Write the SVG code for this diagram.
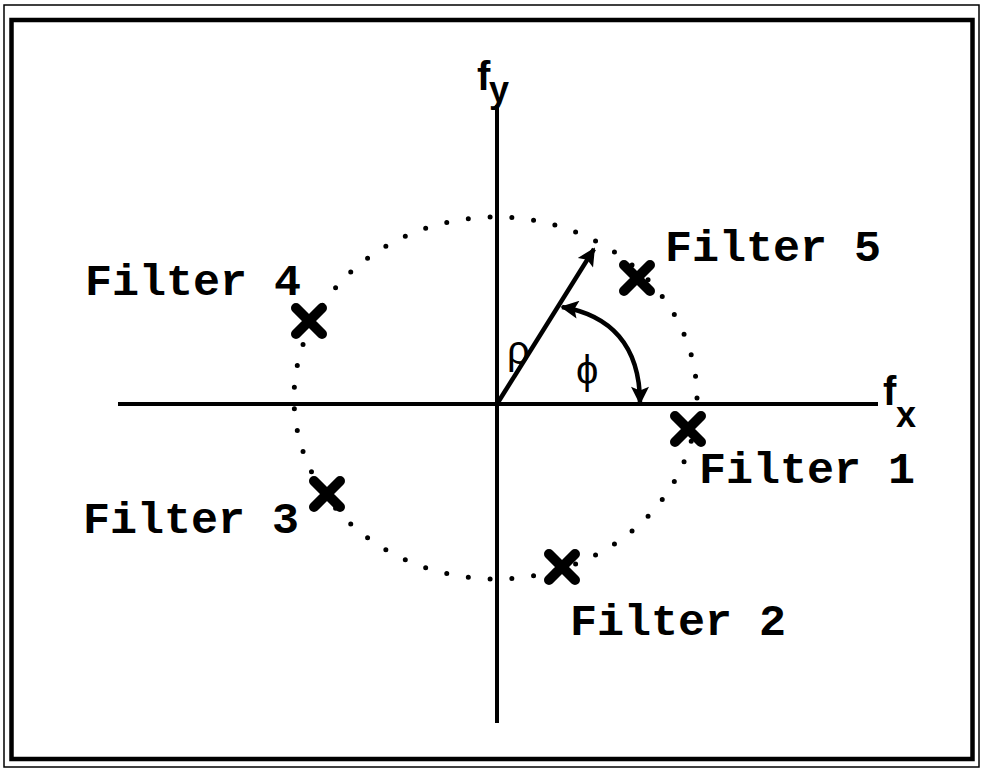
<svg xmlns="http://www.w3.org/2000/svg" width="982" height="772" viewBox="0 0 982 772">
<defs>
<marker id="ah" viewBox="0 0 10 10" refX="9" refY="5" markerWidth="26" markerHeight="18" markerUnits="userSpaceOnUse" orient="auto-start-reverse">
<path d="M0,0 L10,5 L0,10 L2,5 z" fill="#000"/>
</marker>
<g id="xmark">
<path d="M-13,-13 L13,13 M13,-13 L-13,13" stroke="#000" stroke-width="10" stroke-linecap="round"/>
</g>
</defs>
<style>
.lbl{font-family:"Liberation Mono","Courier New",monospace;font-weight:bold;font-size:45px;fill:#000}
.ax{font-family:"Liberation Sans Narrow","Liberation Sans",Arial,sans-serif;font-weight:bold;fill:#000}
.gr{font-family:"Liberation Sans","DejaVu Sans",sans-serif;font-size:40px;fill:#000}
</style>
<rect width="982" height="772" fill="#fff"/>
<rect x="4" y="5" width="975" height="762" fill="none" stroke="#000" stroke-width="1.5"/>
<rect x="11.5" y="20" width="961" height="739" fill="none" stroke="#000" stroke-width="4.5"/>
<g id="connectors" fill="none" stroke="#000">
<line x1="118" y1="404" x2="878" y2="404" stroke-width="4"/>
<line x1="497" y1="105" x2="497" y2="723" stroke-width="4"/>
<ellipse cx="495.5" cy="398" rx="201.5" ry="181" pathLength="55" stroke-dasharray="0 1" stroke-width="5" stroke-linecap="round"/>
<line x1="497" y1="404" x2="594" y2="249" stroke-width="4.5" marker-end="url(#ah)"/>
<path d="M562,307 C610,315 640,345 640,403" stroke-width="4.5" marker-start="url(#ah)" marker-end="url(#ah)"/>
</g>
<g id="axis-labels">
<text class="ax" x="477" y="90" font-size="40">f</text>
<text class="ax" x="489" y="102" font-size="36">y</text>
<text class="ax" x="883" y="405" font-size="40">f</text>
<text class="ax" x="896" y="427" font-size="36">x</text>
<text class="gr" x="507" y="364">ρ</text>
<text class="gr" x="576" y="384">ϕ</text>
</g>
<g id="filter1"><use href="#xmark" x="688" y="429"/><text class="lbl" x="699" y="483">Filter 1</text></g>
<g id="filter2"><use href="#xmark" x="562" y="567"/><text class="lbl" x="570" y="635">Filter 2</text></g>
<g id="filter3"><use href="#xmark" x="327" y="494"/><text class="lbl" x="83" y="533">Filter 3</text></g>
<g id="filter4"><use href="#xmark" x="309" y="321"/><text class="lbl" x="85" y="295">Filter 4</text></g>
<g id="filter5"><use href="#xmark" x="637" y="278"/><text class="lbl" x="665" y="261">Filter 5</text></g>
</svg>
